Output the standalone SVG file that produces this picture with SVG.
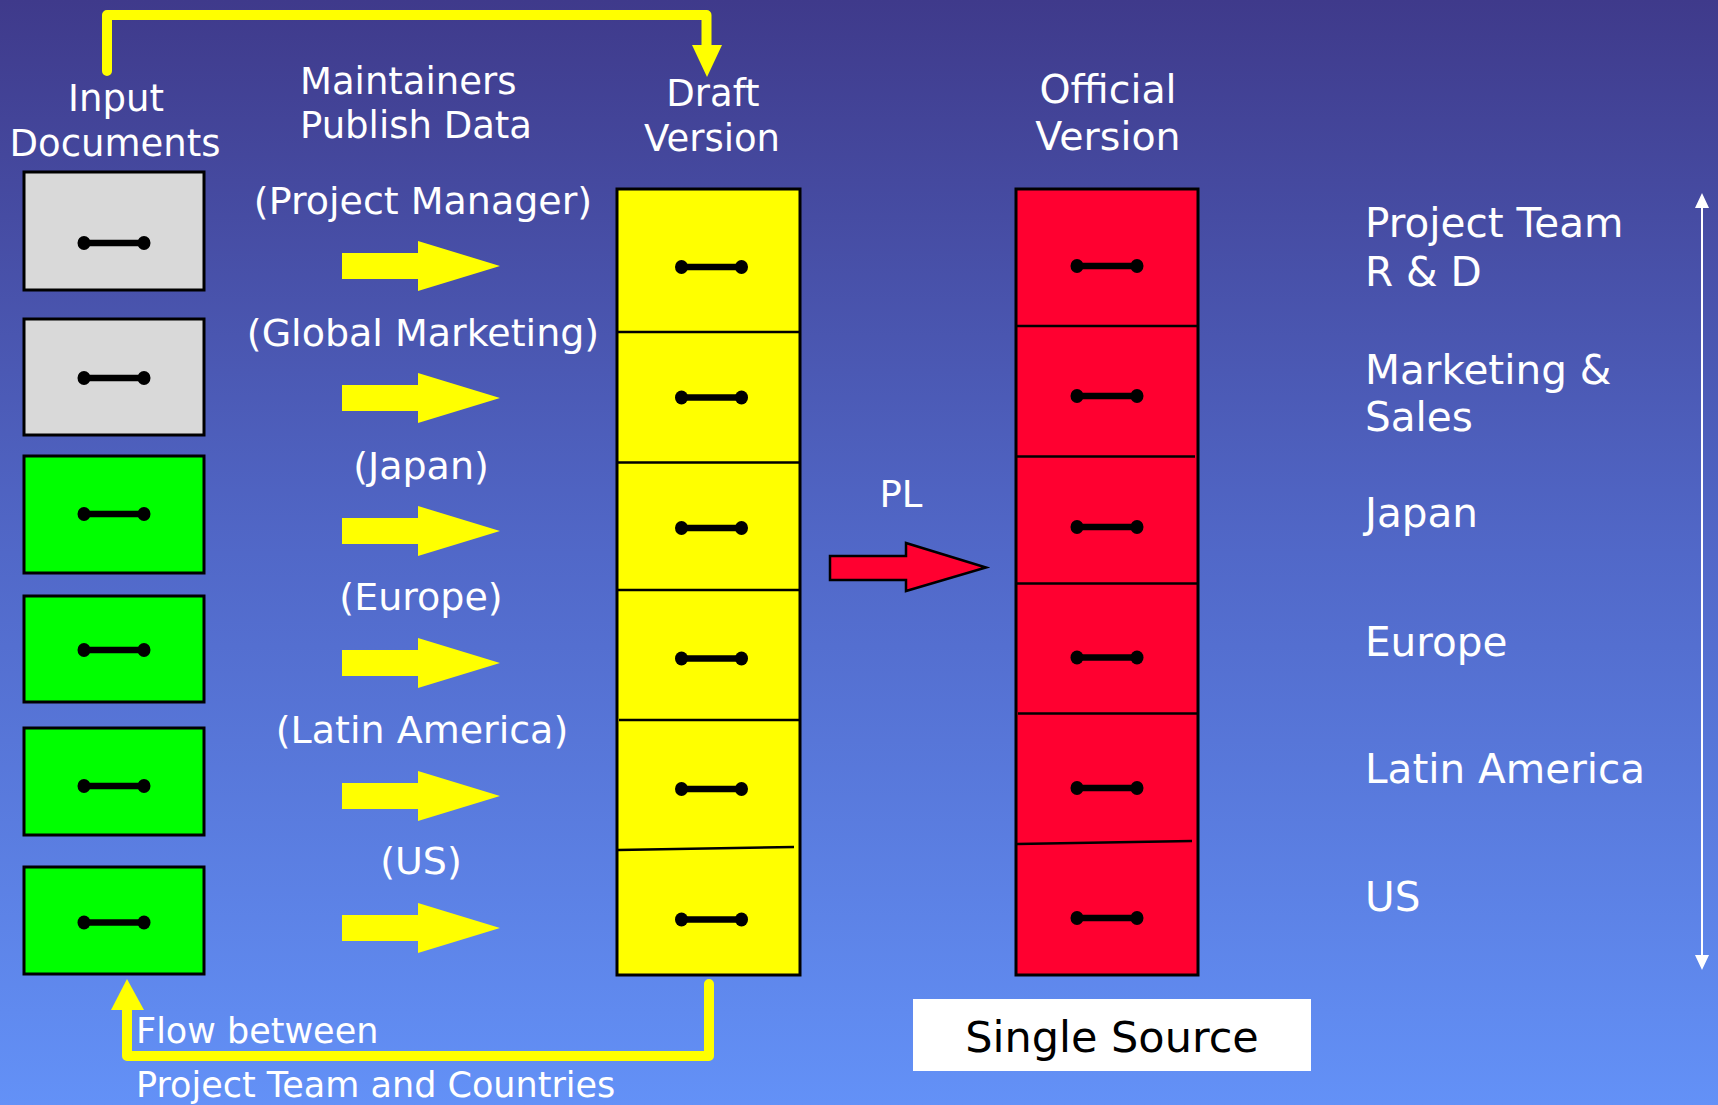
<svg xmlns="http://www.w3.org/2000/svg" xmlns:xlink="http://www.w3.org/1999/xlink" width="1718" height="1105" viewBox="0 0 1718 1105">
<defs>
<linearGradient id="bg" x1="0" y1="0" x2="0" y2="1">
<stop offset="0" stop-color="#3F3A8B"/>
<stop offset="0.5" stop-color="#5168C8"/>
<stop offset="1" stop-color="#6391F7"/>
</linearGradient>
<g id="hd">
<line x1="-30" y1="0" x2="30" y2="0" stroke="#000" stroke-width="6.5"/>
<ellipse cx="-30" cy="0" rx="6.5" ry="7" fill="#000"/>
<ellipse cx="30" cy="0" rx="6.5" ry="7" fill="#000"/>
</g>
<style>
.t{font-family:"DejaVu Sans","Liberation Sans",sans-serif;fill:#fff;font-size:37px}
.m{text-anchor:middle}
.p{font-size:38px}
.o{font-size:39.5px}
.r{font-size:40.5px}
.b{font-size:35px}
.box{stroke:#000;stroke-width:3}
.gray{fill:#D9D9D9}
.green{fill:#00FF00}
.div{stroke:#000;stroke-width:2.5;fill:none}
.ya{fill:#FFFF00}
.yl{fill:none;stroke:#FFFF00;stroke-width:10;stroke-linejoin:round;stroke-linecap:round}
</style>
</defs>
<rect x="0" y="0" width="1718" height="1105" fill="url(#bg)"/>

<g id="headers">
<text class="t m" x="116" y="111">Input</text>
<text class="t m" x="115" y="156">Documents</text>
<text class="t" x="300" y="94">Maintainers</text>
<text class="t" x="300" y="137.5">Publish Data</text>
<text class="t m" x="713" y="106">Draft</text>
<text class="t m" x="712" y="151">Version</text>
<text class="t m o" x="1108" y="102.5">Official</text>
<text class="t m o" x="1108" y="150">Version</text>
</g>

<g id="input1"><rect class="box gray" x="24" y="172" width="180" height="118"/><use xlink:href="#hd" x="114" y="243"/></g>
<g id="input2"><rect class="box gray" x="24" y="319" width="180" height="116"/><use xlink:href="#hd" x="114" y="378"/></g>
<g id="input3"><rect class="box green" x="24" y="456" width="180" height="117"/><use xlink:href="#hd" x="114" y="514"/></g>
<g id="input4"><rect class="box green" x="24" y="596" width="180" height="106"/><use xlink:href="#hd" x="114" y="650"/></g>
<g id="input5"><rect class="box green" x="24" y="728" width="180" height="107"/><use xlink:href="#hd" x="114" y="786"/></g>
<g id="input6"><rect class="box green" x="24" y="867" width="180" height="107"/><use xlink:href="#hd" x="114" y="922.5"/></g>

<g id="maintainers">
<text class="t m p" x="423" y="213.5">(Project Manager)</text>
<text class="t m p" x="423" y="345.5">(Global Marketing)</text>
<text class="t m p" x="421" y="478.5">(Japan)</text>
<text class="t m p" x="421" y="610">(Europe)</text>
<text class="t m p" x="422" y="742.5">(Latin America)</text>
<text class="t m p" x="421" y="874">(US)</text>
<polygon class="ya" points="342,253 418,253 418,241 500,266 418,291 418,279 342,279"/>
<polygon class="ya" points="342,385 418,385 418,373 500,398 418,423 418,411 342,411"/>
<polygon class="ya" points="342,518 418,518 418,506 500,531 418,556 418,544 342,544"/>
<polygon class="ya" points="342,650 418,650 418,638 500,663 418,688 418,676 342,676"/>
<polygon class="ya" points="342,783 418,783 418,771 500,796 418,821 418,809 342,809"/>
<polygon class="ya" points="342,915 418,915 418,903 500,928 418,953 418,941 342,941"/>
</g>

<g id="draft">
<rect class="box" fill="#FFFF00" x="617" y="189" width="183" height="786"/>
<line class="div" x1="618" y1="332" x2="799" y2="332"/>
<line class="div" x1="618" y1="462.5" x2="799" y2="462.5"/>
<line class="div" x1="618" y1="590" x2="799" y2="590"/>
<line class="div" x1="619" y1="720" x2="799" y2="720"/>
<line class="div" x1="618" y1="850" x2="794" y2="847"/>
<use xlink:href="#hd" x="711.5" y="267"/>
<use xlink:href="#hd" x="711.5" y="397.5"/>
<use xlink:href="#hd" x="711.5" y="528"/>
<use xlink:href="#hd" x="711.5" y="658.5"/>
<use xlink:href="#hd" x="711.5" y="789"/>
<use xlink:href="#hd" x="711.5" y="919.5"/>
</g>

<g id="official">
<rect class="box" fill="#FF0030" x="1016" y="189" width="182" height="786"/>
<line class="div" x1="1017" y1="326" x2="1197" y2="326"/>
<line class="div" x1="1017" y1="456.5" x2="1195" y2="456.5"/>
<line class="div" x1="1017" y1="583.5" x2="1197" y2="583.5"/>
<line class="div" x1="1018" y1="713.5" x2="1197" y2="713.5"/>
<line class="div" x1="1017" y1="844" x2="1192" y2="841"/>
<use xlink:href="#hd" x="1107" y="266"/>
<use xlink:href="#hd" x="1107" y="396"/>
<use xlink:href="#hd" x="1107" y="527"/>
<use xlink:href="#hd" x="1107" y="657.5"/>
<use xlink:href="#hd" x="1107" y="788"/>
<use xlink:href="#hd" x="1107" y="918"/>
</g>

<g id="pl">
<text class="t m" x="901" y="507">PL</text>
<polygon points="830,556 906,556 906,543 986,567.5 906,591 906,580 830,580" fill="#FF0030" stroke="#000" stroke-width="2.5" stroke-linejoin="miter"/>
</g>

<g id="labels">
<text class="t r" x="1365" y="237">Project Team</text>
<text class="t r" x="1365" y="286">R &amp; D</text>
<text class="t r" x="1365" y="384">Marketing &amp;</text>
<text class="t r" x="1365" y="431">Sales</text>
<text class="t r" x="1365" y="527">Japan</text>
<text class="t r" x="1365" y="656">Europe</text>
<text class="t r" x="1365" y="782.5">Latin America</text>
<text class="t r" x="1365" y="911">US</text>
</g>

<g id="single-source">
<rect x="913" y="999" width="398" height="72" fill="#fff"/>
<text x="1112" y="1052" text-anchor="middle" font-family="DejaVu Sans, Liberation Sans, sans-serif" font-size="43" fill="#000">Single Source</text>
</g>

<g id="connectors">
<path class="yl" d="M107,71 V15 H706.5 V50"/>
<polygon class="ya" points="692,45 722,45 707,77"/>
<path class="yl" d="M709,984 V1056 H127 V1008"/>
<polygon class="ya" points="111,1010 144,1010 127,979"/>
<line x1="1702" y1="205" x2="1702" y2="958" stroke="#fff" stroke-width="2"/>
<polygon points="1695,208 1709,208 1702,193" fill="#fff"/>
<polygon points="1695,955 1709,955 1702,970" fill="#fff"/>
</g>

<g id="flow-label">
<text class="t b" x="136" y="1043">Flow between</text>
<text class="t b" x="136" y="1097">Project Team and Countries</text>
</g>
</svg>
